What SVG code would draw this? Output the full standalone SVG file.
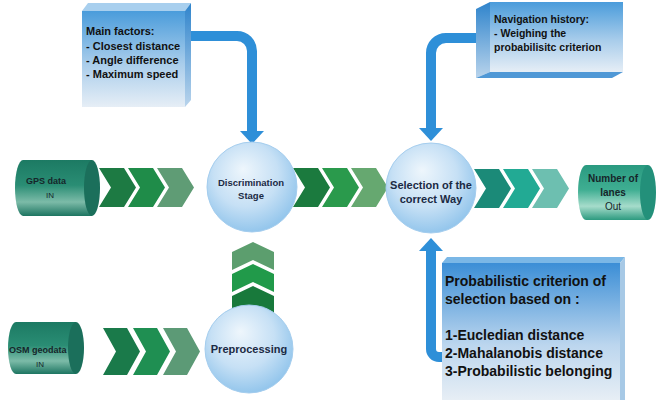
<svg xmlns="http://www.w3.org/2000/svg" width="658" height="400" viewBox="0 0 658 400">
<defs>
  <linearGradient id="boxFront" x1="0" y1="0" x2="0" y2="1">
    <stop offset="0" stop-color="#4a9cdb"/>
    <stop offset="0.55" stop-color="#a9cdeb"/>
    <stop offset="1" stop-color="#e6eef6"/>
  </linearGradient>
  <linearGradient id="boxSide" x1="0" y1="0" x2="0" y2="1">
    <stop offset="0" stop-color="#2f84cc"/>
    <stop offset="1" stop-color="#b9d4ec"/>
  </linearGradient>
  <linearGradient id="probFront" x1="0" y1="0" x2="0" y2="1">
    <stop offset="0" stop-color="#3b8ed6"/>
    <stop offset="0.6" stop-color="#bcd6ee"/>
    <stop offset="1" stop-color="#e7eef5"/>
  </linearGradient>
  <radialGradient id="ball" cx="0.45" cy="0.4" r="0.6" fx="0.4" fy="0.3">
    <stop offset="0" stop-color="#eef6fc"/>
    <stop offset="0.6" stop-color="#c6e0f5"/>
    <stop offset="1" stop-color="#94c6ec"/>
  </radialGradient>
  <linearGradient id="cylA" x1="0" y1="0" x2="0" y2="1">
    <stop offset="0" stop-color="#1c7a63"/>
    <stop offset="0.45" stop-color="#2a8d74"/>
    <stop offset="0.75" stop-color="#7cbba8"/>
    <stop offset="1" stop-color="#1d7561"/>
  </linearGradient>
  <linearGradient id="cylB" x1="0" y1="0" x2="0" y2="1">
    <stop offset="0" stop-color="#2a9a80"/>
    <stop offset="0.45" stop-color="#3fae92"/>
    <stop offset="0.75" stop-color="#a6dccb"/>
    <stop offset="1" stop-color="#2c9a7f"/>
  </linearGradient>
  <style>
    .box { font-family: "Liberation Sans", Arial, sans-serif; font-weight: bold; fill: #111; }
    .ctext { font-family: "Liberation Sans", Arial, sans-serif; font-weight: bold; fill: #1b2a44; text-anchor: middle; }
    .cyl { font-family: "Liberation Sans", Arial, sans-serif; fill: #16262a; }
    .conn { fill: none; stroke: #2e8fd8; stroke-width: 10; }
    .head { fill: #2e8fd8; }
    .ball { fill: url(#ball); stroke: #a4cdee; stroke-width: 1; }
  </style>
</defs>
<rect width="658" height="400" fill="#ffffff"/>

<!-- connectors -->
<g id="connectors">
  <path class="conn" d="M188 36 H237 A15 15 0 0 1 252 51 V132"/>
  <polygon class="head" points="240,131 264,131 252,144"/>
  <path class="conn" d="M478 38 H446 A15 15 0 0 0 431 53 V129"/>
  <polygon class="head" points="419,128 443,128 431,141"/>
  <path class="conn" d="M444 357 H439 A8 8 0 0 1 431 349 V250"/>
  <polygon class="head" points="419,251 443,251 431,238"/>
  <!-- chevrons GPS -> Discrimination -->
  <polygon fill="#1d7a43" points="99,168 124,168 136,187.5 124,207 99,207 111,187.5"/>
  <polygon fill="#1f8c49" points="128,168 153,168 165,187.5 153,207 128,207 140,187.5"/>
  <polygon fill="#5f9c75" points="157,168 182,168 194,187.5 182,207 157,207 169,187.5"/>
  <!-- chevrons Discrimination -> Selection -->
  <polygon fill="#1b7a3e" points="293,168 318,168 330,187.5 318,207 293,207 305,187.5"/>
  <polygon fill="#2a9a4c" points="322,168 347,168 359,187.5 347,207 322,207 334,187.5"/>
  <polygon fill="#66a870" points="351,168 376,168 388,187.5 376,207 351,207 363,187.5"/>
  <!-- chevrons Selection -> Number of lanes -->
  <polygon fill="#1b8a78" points="474,169 499,169 511,188.5 499,208 474,208 486,188.5"/>
  <polygon fill="#22aa94" points="503,169 528,169 540,188.5 528,208 503,208 515,188.5"/>
  <polygon fill="#6dbfb0" points="532,169 557,169 569,188.5 557,208 532,208 544,188.5"/>
  <!-- chevrons OSM -> Preprocessing -->
  <polygon fill="#1a7a4a" points="103,328 127,328 140,351.5 127,375 103,375 116,351.5"/>
  <polygon fill="#1f8f52" points="133,328 157,328 170,351.5 157,375 133,375 146,351.5"/>
  <polygon fill="#5c9a76" points="163,328 187,328 200,351.5 187,375 163,375 176,351.5"/>
  <!-- chevrons Preprocessing -> Discrimination (upwards) -->
  <polygon fill="#18793b" points="253,286 274,296 274,316 253,306 232,316 232,296"/>
  <polygon fill="#219a4a" points="253,264 274,274 274,292 253,282 232,292 232,274"/>
  <polygon fill="#5c9e6e" points="253,242 274,252 274,270 253,260 232,270 232,252"/>
</g>

<!-- Main factors box -->
<g id="main-factors">
  <polygon fill="#a8cfee" points="82,11 88,3 191,3 185,11"/>
  <polygon fill="url(#boxSide)" points="185,11 191,3 191,100 185,107"/>
  <rect x="82" y="11" width="103" height="96" fill="url(#boxFront)"/>
  <text class="box" font-size="11"><tspan x="86" y="35">Main factors:</tspan><tspan x="86" y="50">- Closest distance</tspan><tspan x="86" y="64">- Angle difference</tspan><tspan x="86" y="78">- Maximum speed</tspan></text>
</g>

<!-- Navigation history box -->
<g id="navigation-history">
  <polygon fill="url(#boxSide)" points="476,9 490,2 490,72 476,78"/>
  <polygon fill="#4f98d6" points="476,78 490,72 623,72 612,78"/>
  <rect x="490" y="2" width="133" height="70" fill="url(#boxFront)"/>
  <text class="box" font-size="10.5"><tspan x="494" y="23">Navigation history:</tspan><tspan x="494" y="37">- Weighing the</tspan><tspan x="494" y="51">probabilisitc criterion</tspan></text>
</g>

<!-- Probabilistic criterion box -->
<g id="probabilistic-criterion">
  <polygon fill="#7ab7e6" points="442,263 447,257 625,257 620,263"/>
  <polygon fill="#a7c9e6" points="620,263 625,257 625,400 620,400"/>
  <rect x="442" y="263" width="178" height="137" fill="url(#probFront)"/>
  <text class="box" font-size="14"><tspan x="445" y="286">Probabilistic criterion of</tspan><tspan x="445" y="304">selection based on :</tspan><tspan x="445" y="340">1-Eucledian distance</tspan><tspan x="445" y="358">2-Mahalanobis distance</tspan><tspan x="445" y="376">3-Probabilistic belonging</tspan></text>
</g>

<!-- GPS data cylinder -->
<g id="gps-data">
  <path fill="url(#cylA)" d="M23 160 H92 V216 H23 A8 28 0 0 1 23 160 Z"/>
  <ellipse cx="92" cy="188" rx="8" ry="28" fill="#1b6f5b"/>
  <text class="cyl" font-size="9" font-weight="bold" x="26" y="184">GPS data</text>
  <text class="cyl" font-size="8" x="46" y="198">IN</text>
</g>

<!-- OSM geodata cylinder -->
<g id="osm-geodata">
  <path fill="url(#cylA)" d="M16 322 H76 V374 H16 A8 26 0 0 1 16 322 Z"/>
  <ellipse cx="76" cy="348" rx="8" ry="26" fill="#1b6f5b"/>
  <text class="cyl" font-size="9" font-weight="bold" x="9" y="353">OSM geodata</text>
  <text class="cyl" font-size="8" x="36" y="367">IN</text>
</g>

<!-- Number of lanes cylinder -->
<g id="number-of-lanes">
  <path fill="url(#cylB)" d="M586 165 H648 V220 H586 A8 27.5 0 0 1 586 165 Z"/>
  <ellipse cx="648" cy="192.5" rx="8" ry="27.5" fill="#23907a"/>
  <text class="cyl" font-size="10" font-weight="bold" text-anchor="middle" x="613" y="182">Number of</text>
  <text class="cyl" font-size="10" font-weight="bold" text-anchor="middle" x="613" y="196">lanes</text>
  <text class="cyl" font-size="10" text-anchor="middle" x="613" y="210">Out</text>
</g>

<!-- Discrimination stage -->
<g id="discrimination-stage">
  <circle class="ball" cx="252" cy="187" r="45"/>
  <text class="ctext" font-size="9.5"><tspan x="251" y="186">Discrimination</tspan><tspan x="251" y="199">Stage</tspan></text>
</g>

<!-- Selection of the correct way -->
<g id="selection">
  <circle class="ball" cx="431" cy="188" r="45"/>
  <text class="ctext" font-size="11"><tspan x="431" y="189">Selection of the</tspan><tspan x="431" y="203">correct Way</tspan></text>
</g>

<!-- Preprocessing -->
<g id="preprocessing">
  <circle class="ball" cx="249" cy="349" r="44"/>
  <text class="ctext" font-size="11" x="249" y="353">Preprocessing</text>
</g>
</svg>
